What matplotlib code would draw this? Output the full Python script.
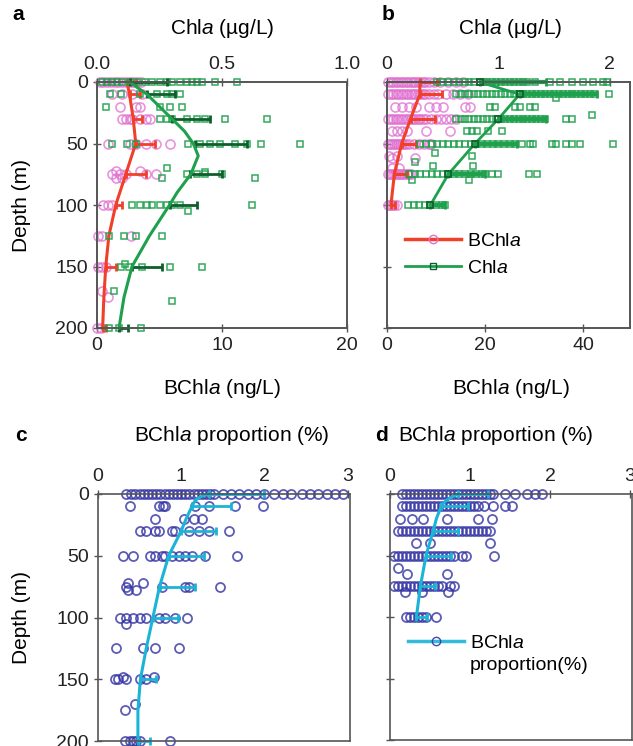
import matplotlib.pyplot as plt
from matplotlib.lines import Line2D

plt.rcParams['font.family'] = ['Liberation Sans', 'DejaVu Sans']
plt.rcParams['mathtext.fontset'] = 'custom'
plt.rcParams['mathtext.rm'] = 'Liberation Sans'
plt.rcParams['mathtext.it'] = 'Liberation Sans:italic'

# ---------------- panel a (BChla ng/L bottom, Chla ug/L top) ----------------
a_mean_depth = [0, 10, 30, 50, 75, 100, 150, 200]
a_bchl_mean = [2.4, 2.6, 2.9, 3.1, 2.3, 1.5, 0.7, 0.45]
a_bchl_err = [0.7, 0.8, 0.7, 1.5, 1.6, 0.5, 0.8, 0.25]
a_chl_mean = [0.13, 0.20, 0.30, 0.39, 0.37, 0.29, 0.14, 0.088]
a_chl_err = [0.15, 0.11, 0.15, 0.21, 0.13, 0.11, 0.12, 0.035]

a_bchl_curve_depth = [0, 10, 30, 50, 75, 100, 125, 150, 175, 200]
a_bchl_curve = [2.4, 2.6, 2.9, 3.1, 2.3, 1.5, 0.95, 0.7, 0.55, 0.45]
a_chl_curve_depth = [0, 10, 20, 30, 40, 50, 60, 75, 90, 100, 125, 150, 175, 200]
a_chl_curve = [0.13, 0.20, 0.25, 0.30, 0.35, 0.385, 0.405, 0.375, 0.32, 0.29, 0.21, 0.14, 0.108, 0.088]

a_bchl_pts = {
    0: [0.2, 0.5, 0.8, 1.1, 1.4, 1.7, 2.0, 2.3, 2.6, 2.9, 3.2, 3.5],
    10: [1.2, 2.0, 2.8, 3.6],
    20: [1.8, 3.1, 3.4],
    30: [2.0, 2.3, 2.6, 2.8, 3.4, 3.9, 4.2],
    50: [0.9, 2.6, 3.1, 3.9, 4.7, 5.8],
    72: [1.5, 3.4], 75: [1.2, 1.8, 2.3, 3.9, 4.7], 78: [1.5, 2.0],
    100: [0.5, 0.9, 1.2], 125: [0.1, 0.4, 2.7], 150: [0.1, 0.4, 0.7],
    170: [0.4], 175: [0.9], 200: [0.0, 0.3],
}
a_chl_pts = {
    0: [0.02, 0.04, 0.06, 0.08, 0.10, 0.13, 0.16, 0.19, 0.22, 0.25, 0.28, 0.30,
        0.33, 0.36, 0.38, 0.40, 0.42, 0.47, 0.56],
    10: [0.05, 0.095, 0.17, 0.24, 0.28, 0.30, 0.33],
    20: [0.034, 0.25, 0.29, 0.34],
    30: [0.25, 0.28, 0.30, 0.36, 0.40, 0.43, 0.51, 0.68],
    50: [0.06, 0.12, 0.155, 0.365, 0.41, 0.45, 0.49, 0.55, 0.60, 0.655, 0.81],
    70: [0.28], 73: [0.43], 75: [0.36, 0.40, 0.43, 0.50], 78: [0.26, 0.63],
    100: [0.14, 0.17, 0.20, 0.22, 0.25, 0.28, 0.30, 0.33, 0.62], 105: [0.365],
    125: [0.047, 0.108, 0.155, 0.26],
    148: [0.11], 150: [0.095, 0.128, 0.18, 0.29, 0.42],
    170: [0.068], 178: [0.30],
    200: [0.047, 0.088, 0.176],
}

# ---------------- panel b ----------------
b_mean_depth = [0, 10, 30, 50, 75, 100]
b_bchl_mean = [6.7, 6.7, 4.8, 3.0, 1.5, 0.8]
b_bchl_err = [3.5, 4.5, 5.0, 3.0, 2.5, 0.8]
b_chl_mean = [0.83, 1.19, 1.0, 0.79, 0.55, 0.39]
b_chl_err = [0.6, 0.69, 0.43, 0.38, 0.33, 0.13]

b_bchl_pts = {
    0: [0.3, 0.8, 1.3, 1.8, 2.3, 2.8, 3.3, 3.8, 4.3, 4.8, 5.3, 5.8, 6.3, 6.8, 7.3,
        7.8, 8.5, 9.5, 10.8, 12.5, 14.0, 15.5],
    10: [0.3, 0.8, 1.3, 1.8, 2.3, 2.8, 3.3, 3.8, 4.3, 4.8, 5.3, 5.8, 6.3, 6.8, 7.3,
         7.8, 8.5, 9.5, 10.5, 12.0, 13.5, 15.0, 16.5],
    20: [1.6, 3.0, 4.5, 6.0, 8.5, 10.0, 11.5, 16.0, 17.0],
    30: [0.3, 0.8, 1.3, 1.8, 2.3, 2.8, 3.3, 3.8, 4.3, 4.8, 5.3, 5.8, 6.3, 6.8, 7.3,
         8.0, 9.0, 10.0, 11.0, 12.0, 13.0, 14.0],
    40: [1.0, 2.0, 3.0, 4.0, 8.0, 12.9],
    50: [0.2, 0.6, 1.0, 1.4, 1.8, 2.2, 2.6, 3.0, 3.4, 3.8, 4.5, 5.5, 6.5, 7.5, 8.5, 9.0],
    60: [0.5, 2.0], 62: [1.0, 5.7], 70: [1.0, 2.5],
    75: [0.3, 0.7, 1.1, 1.5, 1.9, 2.3, 2.7, 3.1, 3.5, 4.0, 4.5, 5.0],
    100: [0.3, 0.7, 1.1, 1.5, 2.0],
}
b_chl_pts = {
    0: [0.45, 0.5, 0.55, 0.6, 0.65, 0.7, 0.74, 0.78, 0.83, 0.87, 0.9, 0.94, 0.98, 1.02,
        1.06, 1.1, 1.14, 1.18, 1.22, 1.26, 1.33, 1.46, 1.55, 1.66, 1.76, 1.85, 1.94, 1.97],
    10: [0.62, 0.66, 0.7, 0.74, 0.78, 0.82, 0.86, 0.9, 0.94, 0.98, 1.02, 1.06, 1.1,
         1.14, 1.18, 1.22, 1.26, 1.3, 1.34, 1.38, 1.42, 1.46, 1.5, 1.54, 1.58, 1.62,
         1.66, 1.7, 1.74, 1.78, 1.82, 1.86, 1.99],
    13: [1.52],
    20: [0.92, 0.97, 1.15, 1.19, 1.28, 1.33],
    27: [1.84],
    30: [0.62, 0.66, 0.7, 0.74, 0.78, 0.82, 0.86, 0.9, 0.94, 0.98, 1.02, 1.06, 1.1,
         1.14, 1.18, 1.22, 1.26, 1.3, 1.34, 1.38, 1.42, 1.61, 1.66],
    40: [0.72, 0.76, 0.81, 0.91, 1.03],
    50: [0.3, 0.35, 0.4, 0.45, 0.5, 0.55, 0.6, 0.65, 0.7, 0.75, 0.8, 0.85, 0.9, 0.95,
         1.0, 1.05, 1.1, 1.15, 1.21, 1.28, 1.31, 1.48, 1.52, 1.61, 1.66, 1.73, 2.03],
    58: [0.43], 60: [0.76], 65: [0.25], 68: [0.41, 0.77],
    75: [0.2, 0.25, 0.3, 0.35, 0.4, 0.45, 0.5, 0.55, 0.6, 0.65, 0.7, 0.75, 0.8, 0.85,
         0.88, 0.94, 1.0, 1.27, 1.35],
    80: [0.22, 0.74],
    100: [0.19, 0.24, 0.29, 0.34, 0.39, 0.44, 0.49, 0.52],
}

# ---------------- panel c ----------------
c_mean_depth = [0, 10, 30, 50, 75, 100, 150, 200]
c_mean = [1.33, 1.13, 1.0, 0.85, 0.74, 0.66, 0.51, 0.48]
c_err = [0.67, 0.47, 0.42, 0.42, 0.43, 0.30, 0.19, 0.15]
c_curve_depth = [0, 2, 5, 10, 20, 30, 50, 75, 100, 125, 150, 175, 200]
c_curve = [1.33, 1.24, 1.17, 1.13, 1.06, 1.0, 0.85, 0.74, 0.66, 0.58, 0.51, 0.48, 0.48]
c_pts = {
    0: [0.34, 0.4, 0.45, 0.5, 0.55, 0.6, 0.65, 0.7, 0.75, 0.8, 0.85, 0.9, 0.95, 1.0,
        1.05, 1.1, 1.15, 1.2, 1.25, 1.3, 1.35, 1.4, 1.5, 1.6, 1.7, 1.8, 1.9, 2.0,
        2.12, 2.22, 2.32, 2.45, 2.55, 2.65, 2.75, 2.85, 2.95],
    10: [0.38, 0.73, 0.78, 0.81, 1.17, 1.33, 1.65, 1.98],
    20: [0.69, 1.03, 1.15, 1.25],
    30: [0.5, 0.58, 0.69, 0.73, 0.89, 0.93, 1.09, 1.21, 1.33, 1.57],
    50: [0.3, 0.42, 0.62, 0.69, 0.77, 0.81, 0.89, 0.97, 1.05, 1.13, 1.29, 1.67],
    72: [0.36, 0.54], 75: [0.34, 0.77, 1.05, 1.09, 1.47], 78: [0.36, 0.46],
    100: [0.26, 0.34, 0.42, 0.5, 0.58, 0.73, 0.81, 0.93, 1.07], 105: [0.34],
    125: [0.22, 0.54, 0.69, 0.97],
    148: [0.3, 0.67], 150: [0.2, 0.24, 0.34, 0.5, 0.58],
    170: [0.44], 175: [0.32],
    200: [0.32, 0.38, 0.42, 0.46, 0.5, 0.87],
}

# ---------------- panel d ----------------
d_mean_depth = [0, 10, 30, 50, 75, 100]
d_mean = [0.85, 0.64, 0.54, 0.45, 0.38, 0.33]
d_err = [0.38, 0.33, 0.31, 0.31, 0.18, 0.13]
d_curve_depth = [0, 3, 6, 10, 20, 30, 50, 75, 100]
d_curve = [0.85, 0.76, 0.69, 0.64, 0.58, 0.54, 0.45, 0.38, 0.33]
d_pts = {
    0: [0.15, 0.2, 0.25, 0.3, 0.35, 0.4, 0.45, 0.5, 0.55, 0.6, 0.65, 0.7, 0.75, 0.8,
        0.85, 0.9, 0.95, 1.0, 1.05, 1.1, 1.15, 1.2, 1.25, 1.29, 1.44, 1.56, 1.71,
        1.81, 1.9],
    10: [0.15, 0.2, 0.25, 0.3, 0.35, 0.4, 0.45, 0.5, 0.55, 0.6, 0.65, 0.7, 0.75, 0.8,
         0.85, 0.9, 0.95, 1.0, 1.05, 1.1, 1.17, 1.29, 1.44, 1.52],
    20: [0.12, 0.28, 0.41, 0.71, 1.1, 1.28],
    30: [0.1, 0.15, 0.2, 0.25, 0.3, 0.35, 0.4, 0.45, 0.5, 0.55, 0.6, 0.65, 0.7, 0.75,
         0.8, 0.85, 0.9, 0.95, 1.0, 1.05, 1.1, 1.15, 1.2, 1.25],
    40: [0.33, 0.5, 1.25],
    50: [0.05, 0.1, 0.15, 0.2, 0.25, 0.3, 0.35, 0.4, 0.45, 0.5, 0.55, 0.6, 0.65, 0.7,
         0.75, 0.8, 0.9, 0.95, 1.3],
    60: [0.1], 65: [0.21, 0.71],
    75: [0.05, 0.1, 0.15, 0.2, 0.25, 0.3, 0.35, 0.4, 0.45, 0.5, 0.55, 0.6, 0.65, 0.75, 0.8],
    80: [0.19, 0.4, 0.73],
    100: [0.2, 0.25, 0.3, 0.35, 0.4, 0.45, 0.58],
}

depth_ticks = [0, 50, 100, 150, 200]

RED = '#f0402a'
PINK = '#e070d0'
GREEN = '#1ea04c'
DKGREEN = '#0e5e2c'
BLUE = '#3535a5'
CYAN = '#1cb4d6'
SPINE = '#555555'

W, H = 633, 746
fig = plt.figure(figsize=(W / 100, H / 100), dpi=100)


def box(l, t, r, b):
    return [l / W, 1 - b / H, (r - l) / W, (b - t) / H]


def style(ax):
    for s in ax.spines.values():
        s.set_color(SPINE)
        s.set_linewidth(1.2)
    ax.tick_params(direction='inout', length=6, width=1, colors=SPINE,
                   labelcolor='#222222', labelsize=14)


def scatter(ax, pts, **kw):
    for dep, vals in pts.items():
        ax.plot(vals, [dep] * len(vals), ls='none', clip_on=False, **kw)


pink_kw = dict(marker='o', ms=6.5, mfc='none', mec=PINK, mew=1.2, alpha=0.75)
green_kw = dict(marker='s', ms=5, mfc='none', mec=GREEN, mew=1.1, alpha=0.9)
blue_kw = dict(marker='o', ms=6.5, mfc='none', mec=BLUE, mew=1.3, alpha=0.8)


def depth_axis(ax, labels=True):
    ax.set_ylim(200, 0)
    ax.set_yticks(depth_ticks)
    if not labels:
        ax.set_yticklabels([])


# panel a
axa = fig.add_axes(box(97, 82, 347, 328))
style(axa)
depth_axis(axa)
axa.set_xlim(0, 20)
axa.set_xticks([0, 10, 20])
scatter(axa, a_bchl_pts, **pink_kw)
axa.errorbar(a_bchl_mean, a_mean_depth, xerr=[[0] * 8, a_bchl_err], fmt='none',
             ecolor=RED, elinewidth=2, capsize=3, capthick=2, clip_on=False)
axa.plot(a_bchl_curve, a_bchl_curve_depth, color=RED, lw=2.2, clip_on=False)
axa2 = axa.twiny()
style(axa2)
axa2.set_xlim(0, 1.0)
axa2.set_xticks([0.0, 0.5, 1.0])
axa2.set_xticklabels(['0.0', '0.5', '1.0'])
scatter(axa2, a_chl_pts, **green_kw)
axa2.errorbar(a_chl_mean, a_mean_depth, xerr=[[0] * 8, a_chl_err], fmt='none',
              ecolor=DKGREEN, elinewidth=2, capsize=3, capthick=2, clip_on=False)
axa2.plot(a_chl_curve, a_chl_curve_depth, color=GREEN, lw=2.2, clip_on=False)

# panel b
axb = fig.add_axes(box(387, 82, 630, 328))
style(axb)
depth_axis(axb, labels=False)
axb.set_xlim(0, 49.6)
axb.set_xticks([0, 20, 40])
scatter(axb, b_bchl_pts, **pink_kw)
axb.errorbar(b_bchl_mean, b_mean_depth, xerr=[[0] * 6, b_bchl_err], fmt='none',
             ecolor=RED, elinewidth=2.2, capsize=3, capthick=2, clip_on=False)
axb.plot(b_bchl_mean, b_mean_depth, color=RED, lw=2.2, clip_on=False)
axb2 = axb.twiny()
style(axb2)
axb2.set_xlim(0, 2.18)
axb2.set_xticks([0, 1, 2])
scatter(axb2, b_chl_pts, **green_kw)
axb2.errorbar(b_chl_mean, b_mean_depth, xerr=[[0] * 6, b_chl_err], fmt='none',
              ecolor=GREEN, elinewidth=3, capsize=3, capthick=2, clip_on=False)
axb2.plot(b_chl_mean, b_mean_depth, color=GREEN, lw=2, marker='s', ms=5,
          mfc='none', mec=DKGREEN, mew=1.2, clip_on=False)
handles = [Line2D([], [], color=RED, lw=2.5, marker='o', ms=6, mfc='none', mec=PINK),
           Line2D([], [], color=GREEN, lw=2, marker='s', ms=5, mfc='none', mec=DKGREEN)]
axb.legend(handles, ['BChl$a$', 'Chl$a$'], frameon=False, fontsize=14,
           loc='upper left', bbox_to_anchor=(0.0, 0.46), handlelength=2.9,
           handletextpad=0.3, labelspacing=0.5, numpoints=1)

# panel c
axc = fig.add_axes(box(98, 494, 350, 741))
style(axc)
depth_axis(axc)
axc.set_xlim(0, 3.03)
axc.xaxis.tick_top()
axc.set_xticks([0, 1, 2, 3])
scatter(axc, c_pts, **blue_kw)
axc.errorbar(c_mean, c_mean_depth, xerr=[[0] * 8, c_err], fmt='none',
             ecolor=CYAN, elinewidth=2, capsize=3, capthick=2, clip_on=False)
axc.plot(c_curve, c_curve_depth, color=CYAN, lw=2.2, clip_on=False)

# panel d
axd = fig.add_axes(box(390, 494, 632, 740))
style(axd)
depth_axis(axd, labels=False)
axd.set_xlim(0, 3.025)
axd.xaxis.tick_top()
axd.set_xticks([0, 1, 2, 3])
scatter(axd, d_pts, **blue_kw)
axd.errorbar(d_mean, d_mean_depth, xerr=[[0] * 6, d_err], fmt='none',
             ecolor=CYAN, elinewidth=2, capsize=3, capthick=2, clip_on=False)
axd.plot(d_curve, d_curve_depth, color=CYAN, lw=2.2, clip_on=False)
hd = [Line2D([], [], color=CYAN, lw=2.5, marker='o', ms=6, mfc='none', mec=BLUE, alpha=0.9)]
leg = axd.legend(hd, ['BChl$a$'], frameon=False, fontsize=14,
                 loc='upper left', bbox_to_anchor=(0.0, 0.5), handlelength=2.9,
                 handletextpad=0.3, numpoints=1)


# texts
def ftext(x, y, s, **kw):
    fig.text(x / W, 1 - y / H, s, va='center', **kw)


fig.canvas.draw()
tx = leg.get_texts()[0].get_window_extent().x0
fig.text(tx / W, 1 - 665 / H, 'proportion(%)', fontsize=14, ha='left', va='center')

ftext(12, 15, 'a', fontsize=15, fontweight='bold')
ftext(222, 28, 'Chl$a$ (µg/L)', fontsize=15, ha='center')
ftext(382, 15, 'b', fontsize=15, fontweight='bold')
ftext(510, 28, 'Chl$a$ (µg/L)', fontsize=15, ha='center')
ftext(222, 388, 'BChl$a$ (ng/L)', fontsize=15, ha='center')
ftext(511, 388, 'BChl$a$ (ng/L)', fontsize=15, ha='center')
ftext(22, 205, 'Depth (m)', fontsize=15, ha='center', rotation=90)
ftext(22, 618, 'Depth (m)', fontsize=15, ha='center', rotation=90)
ftext(15, 435, 'c', fontsize=15, fontweight='bold')
ftext(232, 435, 'BChl$a$ proportion (%)', fontsize=15, ha='center')
ftext(375, 435, 'd', fontsize=15, fontweight='bold')
ftext(398, 435, 'BChl$a$ proportion (%)', fontsize=15, ha='left')

fig.savefig('out.png', dpi=100)
